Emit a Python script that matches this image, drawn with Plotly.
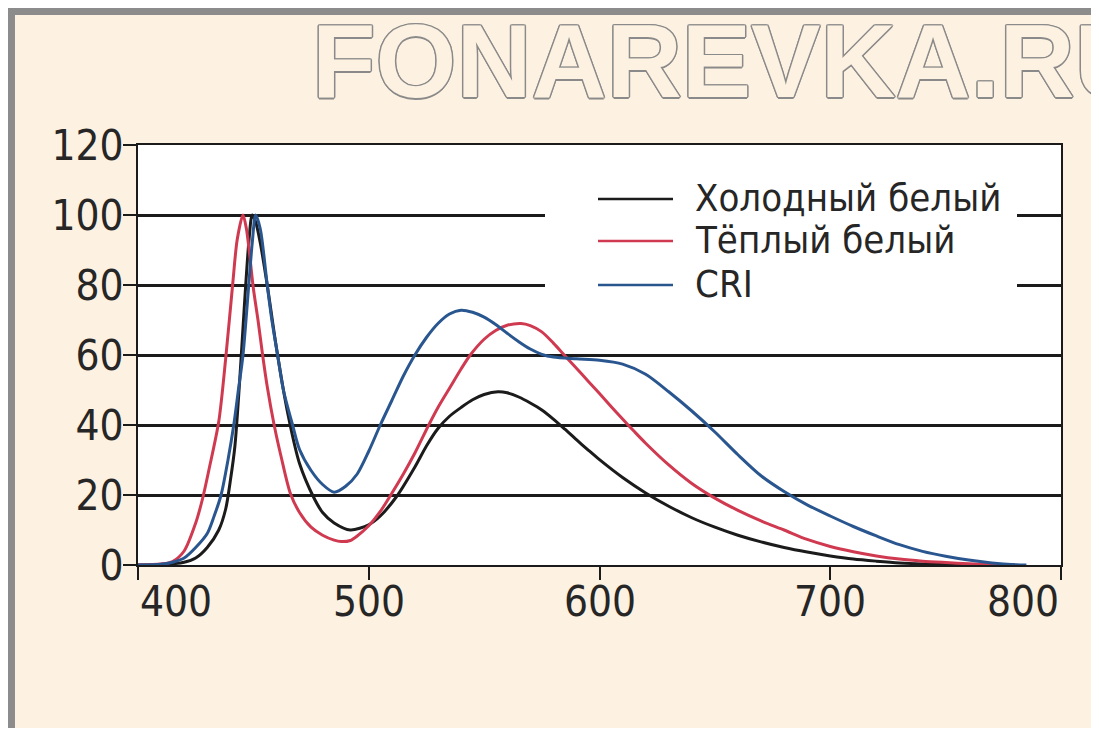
import plotly.graph_objects as go

# ---------------- data ----------------
series_names = ["Холодный белый", "Тёплый белый", "CRI"]

wl_cold = [400, 410, 420, 425, 430, 435, 438, 440, 442, 444, 446, 448, 449.5, 451, 453, 456, 460, 465, 470, 476,
           480, 485, 492, 500, 505, 512, 520, 525, 530, 535, 540, 545, 550, 556, 560, 565, 570, 575, 580, 585,
           590, 595, 600, 610, 620, 630, 640, 650, 660, 670, 680, 690, 700, 710, 720, 730, 740, 750, 760, 780]
val_cold = [0, 0.1, 0.8, 2, 5, 10, 16, 24, 34, 52, 73, 92, 100, 98, 92, 80, 62, 43, 29, 19.5,
            15, 12, 10, 11.5, 14, 19.5, 28, 34, 39, 42.5, 45, 47.2, 48.7, 49.5, 49.2, 48, 46.3, 44.3, 41.7, 38.8,
            35.8, 32.9, 30.1, 25, 20.6, 16.8, 13.5, 10.8, 8.5, 6.6, 5, 3.7, 2.6, 1.7, 1.1, 0.6, 0.3, 0.1, 0, 0]

wl_warm = [400, 410, 415, 420, 425, 428, 431, 435, 438, 441, 443, 445.5, 447, 450, 452, 454, 456, 459, 462, 466,
           470, 475, 480, 485, 488, 492, 495, 500, 505, 510, 515, 520, 526, 530, 535, 540, 544, 550, 555, 560,
           566, 570, 575, 580, 585, 590, 595, 600, 605, 610, 615, 620, 630, 640, 650, 660, 670, 680, 690, 700,
           710, 720, 730, 740, 750, 760, 770, 780]
val_warm = [0, 0.3, 1, 4, 12, 19, 28, 41, 59, 80, 93, 100, 96, 79, 70, 60, 51, 40, 31, 20.5,
            15, 10.8, 8.5, 7.1, 6.7, 7, 8.3, 11.2, 15.3, 20.5, 26, 32, 40, 45, 50.5, 56, 60, 64.5, 67, 68.5,
            69, 68.4, 66.6, 63.4, 59.8, 56.2, 52.6, 49, 45.3, 41.7, 38.2, 34.8, 28.6, 23.3, 19.1, 15.6, 12.6, 10, 7.3, 5.3,
            3.8, 2.6, 1.7, 1.1, 0.7, 0.35, 0.12, 0]

wl_cri = [400, 410, 415, 420, 425, 430, 433, 436, 439, 441.5, 443.5, 445.5, 448, 449.5, 451, 453, 456, 458, 460.5, 463,
          467, 470, 475, 480, 485, 490, 495, 500, 505, 510, 515, 520, 525, 530, 535, 540, 545, 550, 555, 560,
          565, 570, 575, 580, 590, 600, 610, 620, 630, 640, 650, 660, 670, 680, 690, 700, 710, 720, 730, 740,
          750, 760, 770, 780, 785]
val_cri = [0, 0.2, 0.8, 2, 5, 9, 14, 20, 30, 40, 50, 60, 80, 92, 100, 96, 80, 70, 60, 50,
           40, 33, 27, 23, 20.8, 22.5, 26, 32.5, 40, 47, 54, 60, 65, 69, 71.7, 72.8, 72.2, 70.8, 68.7, 66.2,
           63.8, 61.7, 60.2, 59.4, 58.9, 58.5, 57.4, 54.5, 49.5, 44, 38, 31.5, 25.5, 21, 17.2, 14, 11, 8.3, 5.8, 3.9,
           2.5, 1.4, 0.6, 0.1, 0]

x_ticks = [400, 500, 600, 700, 800]
y_ticks = [0, 20, 40, 60, 80, 100, 120]

colors = ["#1b1b1b", "#d03a50", "#2a5690"]
watermark = "FONAREVKA.RU"

# ---------------- layout helpers ----------------
OFF = 8                      # page body margin
W, H = 1099 - OFF, 736 - 2 * OFF
# plot area in page pixels (as in the reference)
RL, RR, RT, RB = 138, 1061, 145, 565
PL, PR, PT, PB = RL - OFF, RR - OFF, RT - OFF, RB - OFF


def px(xp):
    """page x pixel -> paper coordinate"""
    return (xp - RL) / (RR - RL)


def py(yp):
    """page y pixel -> paper coordinate"""
    return (RB - yp) / (RB - RT)


BEIGE = "#fdf1e1"
GRAY = "#8c8c8c"
FONT = "Liberation Sans Narrow, DejaVu Sans Condensed, Arial Narrow, sans-serif"

fig = go.Figure()
for wl, val, name, col in zip([wl_cold, wl_warm, wl_cri], [val_cold, val_warm, val_cri], series_names, colors):
    fig.add_trace(go.Scatter(x=wl, y=val, mode="lines", name=name,
                             line=dict(color=col, width=3, shape="spline", smoothing=0.8),
                             showlegend=False, hoverinfo="skip"))

shapes = []
# gray frame (top and left), page pixels 8..15
shapes.append(dict(type="rect", xref="paper", yref="paper", x0=px(OFF), x1=px(1200), y0=py(OFF), y1=py(15),
                   fillcolor=GRAY, line_width=0, layer="below"))
shapes.append(dict(type="rect", xref="paper", yref="paper", x0=px(OFF), x1=px(15), y0=py(OFF), y1=py(800),
                   fillcolor=GRAY, line_width=0, layer="below"))

# white legend box hiding grid lines
shapes.append(dict(type="rect", xref="x", yref="y",
                   x0=400 + (545 - RL) / (RR - RL) * 400, x1=400 + (1017 - RL) / (RR - RL) * 400,
                   y0=(RB - 298) / (RB - RT) * 120, y1=(RB - 172) / (RB - RT) * 120,
                   fillcolor="white", line_width=0, layer="between"))

annotations = []
legend_rows = [199, 241, 285]
for name, col, yr in zip(series_names, colors, legend_rows):
    shapes.append(dict(type="line", xref="paper", yref="paper", x0=px(598), x1=px(673), y0=py(yr), y1=py(yr),
                       line=dict(color=col, width=2.5), layer="above"))
    annotations.append(dict(text=name, xref="paper", yref="paper", x=px(693), y=py(yr - 1),
                            xanchor="left", yanchor="middle", showarrow=False,
                            font=dict(family=FONT, size=38, color="#262626")))

# x tick labels (first left-aligned, last right-aligned as in the original)
for i, t in enumerate(x_ticks):
    anchor = "left" if i == 0 else ("right" if i == len(x_ticks) - 1 else "center")
    annotations.append(dict(text=str(t), x=t, xref="x", y=py(575), yref="paper",
                            xanchor=anchor, yanchor="top", showarrow=False,
                            font=dict(family=FONT, size=42, color="#262626")))

# watermark (outlined text)
sc = "#8a8a8a"
sh = ", ".join(f"{a}px {b}px 0 {sc}" for a, b in
               [(1.5, 0), (-1.5, 0), (0, 1.5), (0, -1.5), (1, 1), (-1, -1), (1, -1), (-1, 1)])
annotations.append(dict(text=watermark, xref="paper", yref="paper", x=px(310), y=py(61),
                        xanchor="left", yanchor="middle", showarrow=False,
                        font=dict(family="Liberation Sans, Arial, sans-serif", size=104, weight="bold",
                                  color=BEIGE, shadow=sh)))

fig.update_layout(
    width=W, height=H,
    margin=dict(l=PL, r=W - PR, t=PT, b=H - PB, pad=0),
    paper_bgcolor=BEIGE, plot_bgcolor="white",
    shapes=shapes, annotations=annotations,
    showlegend=False,
    xaxis=dict(range=[400, 800], tickvals=x_ticks, showticklabels=False, ticks="outside", ticklen=13,
               tickwidth=2, tickcolor="#1b1b1b", showline=True, linecolor="#1b1b1b", linewidth=2,
               mirror=True, showgrid=False, zeroline=False, fixedrange=True),
    yaxis=dict(range=[0, 120], tickvals=y_ticks, ticks="outside", ticklen=13, tickwidth=2,
               tickcolor="#1b1b1b", showline=True, linecolor="#1b1b1b", linewidth=2, mirror=True,
               showgrid=True, gridcolor="#1b1b1b", gridwidth=2.5, zeroline=False,
               tickfont=dict(family=FONT, size=42, color="#262626"), ticklabelstandoff=-9,
               fixedrange=True),
)

fig.write_html("out.html")
